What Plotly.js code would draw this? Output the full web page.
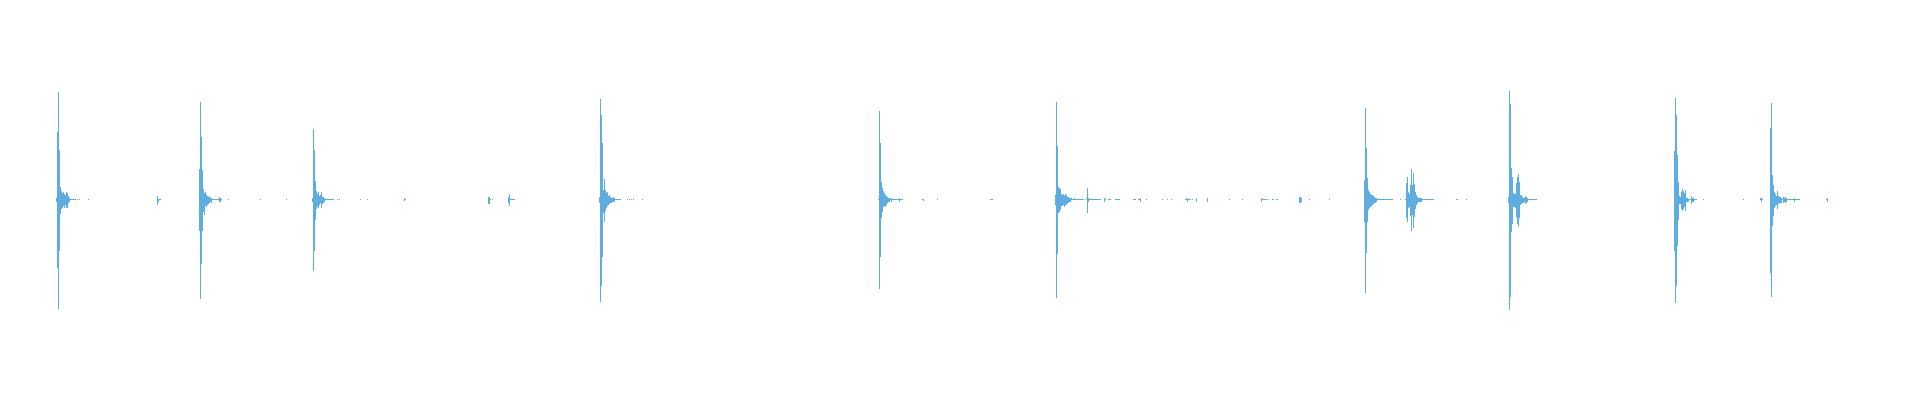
<!DOCTYPE html>
<html>
<head>
<meta charset="utf-8">
<script src="https://cdn.plot.ly/plotly-3.0.1.min.js"></script>
<style>
    html, body { margin: 0; padding: 0; background: #ffffff; }
    #waveform { width: 1920px; height: 400px; }
</style>
</head>
<body>
<div id="waveform"></div>
<script>
/**********************************************************************************************************/
// DATOS DE LA ONDA: cada golpe empieza en una columna y trae su amplitud hacia arriba y hacia abajo
// (amplitud en milesimas de la escala completa)
const hitStart = [56, 157, 199, 312, 404, 488, 508, 599, 878, 1055, 1086, 1090, 1364, 1405, 1508, 1674, 1760, 1770];

const hitUp = [
    [10, 340, 540, 250, 65, 45, 35, 40, 30, 25, 40, 35, 20, 10, 2, 2, 2, 2, 2, 2],
    [20, 2, 2, 2],
    [155, 490, 315, 150, 55, 35, 40, 25, 20, 15, 20, 10, 10, 2, 2, 2, 2, 2, 2, 2, 15, 10, 2],
    [10, 355, 250, 95, 45, 30, 40, 20, 25, 40, 15, 15, 10, 2, 2, 2, 2, 2, 2, 2, 2, 2],
    [10, 2],
    [15, 15, 2],
    [15, 30, 2, 2, 2, 2, 2],
    [15, 505, 425, 285, 50, 105, 50, 35, 40, 20, 25, 15, 10, 10, 15, 10, 2, 2, 2, 2, 2, 2],
    [2, 445, 285, 90, 60, 45, 35, 25, 20, 15, 10, 10, 2, 10, 2, 2, 2, 2, 2, 2, 2, 10, 2, 2, 2],
    [25, 490, 270, 65, 60, 55, 30, 25, 30, 20, 30, 25, 15, 15, 10, 10, 10, 2, 2, 10, 2, 2, 2, 2, 2, 2, 2, 2, 2],
    [2, 60, 10, 2],
    [2, 2, 2, 2, 2, 2, 2, 2, 2, 2, 2],
    [100, 460, 260, 110, 50, 40, 30, 25, 25, 20, 15, 10, 10, 2, 2, 2, 2, 2, 2, 2, 2, 2, 2, 2, 2, 2, 2, 2, 2],
    [2, 85, 115, 40, 30, 75, 155, 75, 135, 80, 40, 25, 15, 10, 10, 10, 10, 2, 2, 2, 2, 2, 2, 2, 2, 2, 2, 2, 2],
    [15, 545, 480, 160, 115, 35, 30, 30, 85, 115, 130, 90, 25, 25, 15, 10, 10, 20, 15, 10, 2, 2, 2, 2, 2, 2, 2, 2, 2],
    [245, 510, 425, 225, 90, 20, 15, 40, 55, 45, 35, 50, 10, 10, 2, 2, 2, 20, 10, 10, 2, 2, 2],
    [10, 10, 2],
    [360, 485, 125, 75, 40, 30, 20, 45, 20, 15, 15, 10, 2, 15, 10, 15, 10, 2, 2, 2, 2, 2, 2, 2, 10, 2, 2, 2, 2, 2]
];

const hitDown = [
    [10, 340, 545, 255, 70, 45, 40, 30, 40, 25, 40, 40, 15, 10, 2, 2, 2, 2, 2, 2],
    [25, 10, 2, 2],
    [155, 495, 320, 155, 60, 75, 30, 35, 25, 20, 15, 10, 15, 2, 2, 2, 2, 2, 2, 2, 10, 10, 2],
    [10, 355, 255, 100, 45, 35, 40, 25, 15, 40, 20, 15, 10, 2, 2, 2, 2, 2, 2, 2, 2, 2],
    [5, 2],
    [20, 20, 2],
    [15, 30, 2, 2, 2, 2, 2],
    [15, 510, 430, 285, 65, 110, 55, 40, 30, 25, 20, 15, 15, 10, 10, 10, 2, 2, 2, 2, 2, 2],
    [2, 445, 285, 90, 60, 35, 30, 35, 25, 15, 10, 10, 2, 10, 2, 2, 2, 2, 2, 2, 2, 10, 2, 2, 2],
    [25, 490, 270, 65, 60, 50, 30, 30, 25, 35, 25, 25, 15, 15, 10, 10, 2, 2, 2, 2, 2, 2, 2, 2, 2, 2, 2, 2, 2],
    [2, 65, 10, 2],
    [2, 2, 2, 2, 2, 2, 2, 2, 2, 2, 2],
    [110, 465, 265, 110, 50, 40, 35, 30, 25, 20, 15, 15, 10, 2, 2, 2, 2, 2, 2, 2, 2, 2, 2, 2, 2, 2, 2, 2, 2],
    [2, 90, 110, 40, 35, 80, 155, 75, 140, 85, 45, 25, 15, 10, 10, 10, 10, 2, 2, 2, 2, 2, 2, 2, 2, 2, 2, 2, 2],
    [15, 550, 485, 160, 120, 35, 35, 40, 85, 120, 135, 90, 25, 20, 15, 15, 10, 20, 15, 10, 2, 2, 2, 2, 2, 2, 2, 2, 2],
    [255, 515, 430, 230, 100, 20, 20, 45, 55, 45, 35, 55, 10, 10, 10, 2, 2, 20, 10, 10, 2, 2, 2],
    [2, 10, 2],
    [365, 485, 130, 80, 40, 30, 25, 45, 20, 15, 15, 15, 2, 15, 10, 15, 10, 2, 2, 2, 2, 2, 2, 2, 10, 2, 2, 2, 2, 2]
];

// Puntos sueltos del ruido de fondo (simetricos)
const speckCol = [77, 79, 88, 228, 260, 286, 337, 339, 360, 367, 492, 627, 629, 631, 633, 642,
    922, 923, 937, 990, 991, 992, 1104, 1105, 1108, 1109, 1110, 1115, 1116, 1117, 1118, 1119,
    1133, 1134, 1135, 1138, 1139, 1140, 1146, 1162, 1167, 1171, 1185, 1186, 1187, 1188, 1189,
    1190, 1192, 1196, 1207, 1229, 1242, 1261, 1262, 1263, 1264, 1265, 1266, 1268, 1272, 1273,
    1276, 1277, 1299, 1300, 1301, 1309, 1329, 1400, 1456, 1457, 1466, 1703, 1743, 1826, 1827];
const speckAmp = [2, 2, 2, 2, 2, 2, 2, 2, 2, 2, 2, 2, 2, 2, 2, 2,
    2, 5, 2, 2, 2, 2, 10, 2, 2, 2, 2, 2, 2, 2, 2, 2,
    2, 2, 2, 2, 2, 10, 2, 2, 2, 2, 2, 2, 10, 2, 2,
    2, 2, 10, 10, 2, 2, 10, 2, 2, 2, 2, 2, 2, 2, 2,
    2, 2, 15, 15, 10, 2, 2, 2, 2, 2, 2, 2, 2, 2, 10];

/**********************************************************************************************************/
// ARMAR LAS COLUMNAS (una barra por columna, de -abajo a +arriba)
function buildColumns() {
    const x = [], base = [], len = [];
    hitStart.forEach((start, h) => {
        hitUp[h].forEach((up, i) => {
            x.push(start + i);
            base.push(-hitDown[h][i]);
            len.push(up + hitDown[h][i]);
        });
    });
    speckCol.forEach((c, i) => {
        x.push(c);
        base.push(-speckAmp[i]);
        len.push(2 * speckAmp[i]);
    });
    return { x, base, len };
}

const cols = buildColumns();

const trace = {
    type: 'bar',
    x: cols.x,
    y: cols.len,
    base: cols.base,
    width: 1,
    marker: { color: '#5DADE2', line: { width: 0 } },
    hoverinfo: 'skip'
};

const layout = {
    width: 1920,
    height: 400,
    margin: { t: 0, r: 0, b: 0, l: 0 },
    paper_bgcolor: '#ffffff',
    plot_bgcolor: '#ffffff',
    showlegend: false,
    bargap: 0,
    bargroupgap: 0,
    xaxis: { range: [-0.5, 1919.5], visible: false, fixedrange: true },
    yaxis: { range: [-1002.5, 997.5], visible: false, fixedrange: true }
};

Plotly.newPlot('waveform', [trace], layout, { staticPlot: true, displayModeBar: false });
</script>
</body>
</html>
